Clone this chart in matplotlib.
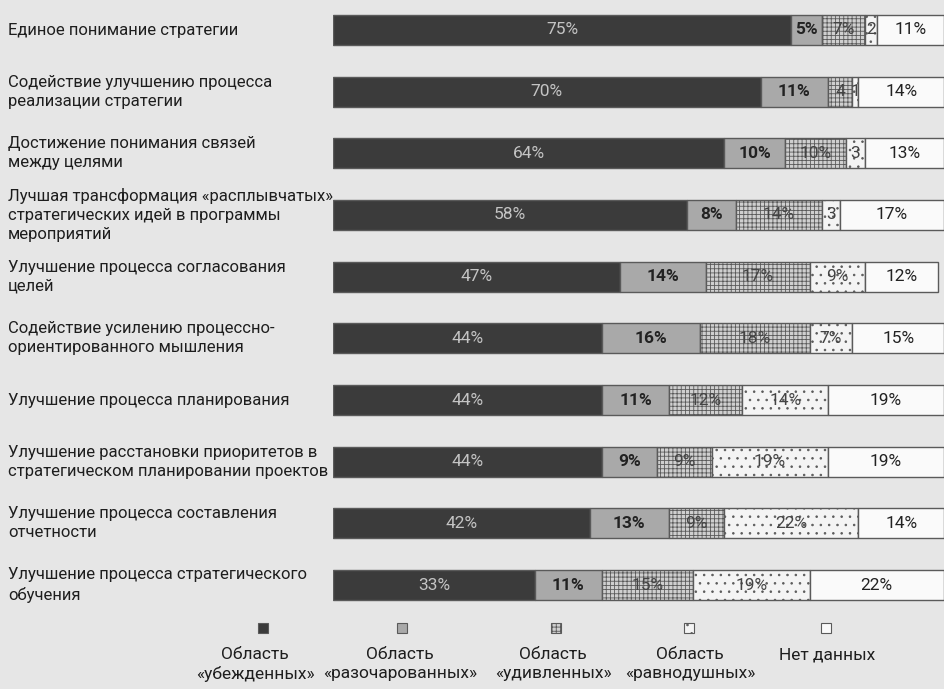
import numpy as np
import matplotlib.pyplot as plt
from matplotlib.patches import Rectangle

plt.rcParams['font.family'] = ['Roboto', 'DejaVu Sans']
plt.rcParams['hatch.linewidth'] = 0.6

# Категории (сверху вниз)
categories = [
    'Единое понимание стратегии',
    'Содействие улучшению процесса\nреализации стратегии',
    'Достижение понимания связей\nмежду целями',
    'Лучшая трансформация «расплывчатых»\nстратегических идей в программы\nмероприятий',
    'Улучшение процесса согласования\nцелей',
    'Содействие усилению процессно-\nориентированного мышления',
    'Улучшение процесса планирования',
    'Улучшение расстановки приоритетов в\nстратегическом планировании проектов',
    'Улучшение процесса составления\nотчетности',
    'Улучшение процесса стратегического\nобучения',
]

# Доли ответов, %
ubezhdennye = [75, 70, 64, 58, 47, 44, 44, 44, 42, 33]
razocharovannye = [5, 11, 10, 8, 14, 16, 11, 9, 13, 11]
udivlennye = [7, 4, 10, 14, 17, 18, 12, 9, 9, 15]
ravnodushnye = [2, 1, 3, 3, 9, 7, 14, 19, 22, 19]
net_dannyh = [11, 14, 13, 17, 12, 15, 19, 19, 14, 22]

series = [ubezhdennye, razocharovannye, udivlennye, ravnodushnye, net_dannyh]
legend_labels = ['Область\n«убежденных»', 'Область\n«разочарованных»',
                 'Область\n«удивленных»', 'Область\n«равнодушных»', 'Нет данных']

bg = '#e6e6e6'
faces = ['#3b3b3b', '#a9a9a9', '#cfcfcf', '#f4f4f4', '#fafafa']
hatches = [None, None, '++++', '..', None]
text_colors = ['#c4c4c4', '#222222', '#444444', '#444444', '#222222']
weights = ['normal', 'bold', 'normal', 'normal', 'normal']

fig = plt.figure(figsize=(9.44, 6.89), dpi=100, facecolor=bg)
W, H = 944, 689
ax = fig.add_axes([333 / W, 1 - 615 / H, 1 - 333 / W, 615 / H])
ax.set_facecolor(bg)

y = np.arange(len(categories))
left = np.zeros(len(categories))
for vals, fc, hatch, tc, fw in zip(series, faces, hatches, text_colors, weights):
    vals = np.array(vals, dtype=float)
    bars = ax.barh(y, vals, left=left, height=0.49, color=fc,
                   edgecolor='#5a5a5a', linewidth=1.0, hatch=hatch)
    for b, v in zip(bars, vals):
        txt = f'{int(v)}%' if v >= 5 else f'{int(v)}'
        ax.text(b.get_x() + b.get_width() / 2, b.get_y() + b.get_height() / 2,
                txt, ha='center', va='center', fontsize=12.5, color=tc,
                fontweight=fw)
    left += vals

ax.set_xlim(0, 100)
ax.set_ylim(9.486, -0.486)
ax.axis('off')

# Подписи категорий слева
for i, cat in enumerate(categories):
    yc = 30 + i * 61.67
    fig.text(8 / W, 1 - yc / H, cat, ha='left', va='center',
             fontsize=12, color='#1e1e1e', linespacing=1.35)

# Легенда: значки над подписями
marker_x = [263, 402, 556, 689, 826]
label_x = [255, 400, 553, 690, 827]
for mx, lx, fc, hatch, lab in zip(marker_x, label_x, faces, hatches, legend_labels):
    s = 10
    fig.add_artist(Rectangle(((mx - s / 2) / W, 1 - (628 + s / 2) / H), s / W, s / H,
                             transform=fig.transFigure, facecolor=fc,
                             edgecolor='#5a5a5a', linewidth=0.8, hatch=hatch))
    fig.text(lx / W, 1 - 647 / H, lab, ha='center', va='top',
             fontsize=12.5, color='#1e1e1e', linespacing=1.3)

fig.savefig('out.png', dpi=100, facecolor=bg)
